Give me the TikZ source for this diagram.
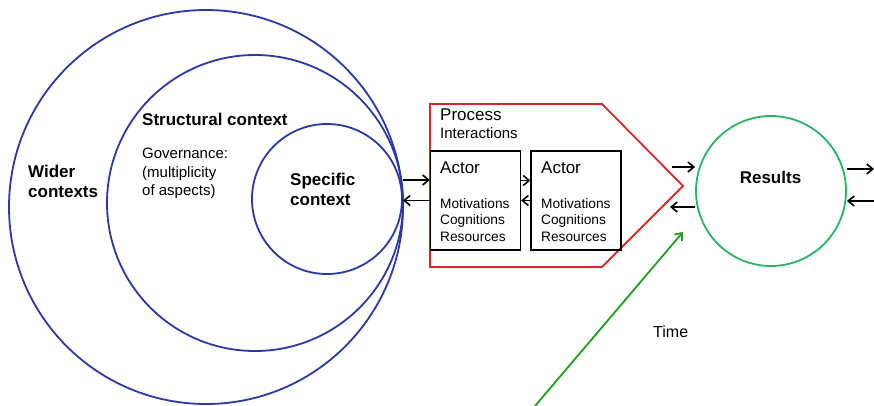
\documentclass[tikz,border=0pt]{standalone}
\usepackage{fontspec}
\setmainfont{Liberation Sans}
\usetikzlibrary{arrows.meta}
\definecolor{ctxblue}{RGB}{45,55,165}
\definecolor{procred}{RGB}{215,40,40}
\definecolor{resgreen}{RGB}{40,180,100}
\definecolor{timegreen}{RGB}{30,160,30}
\tikzset{
	ring/.style={circle, draw=ctxblue, line width=1.8pt, inner sep=0pt},
	actorbox/.style={draw, line width=1.2pt, inner sep=0pt, minimum width=90pt, minimum height=99pt},
	flow/.style={line width=1.6pt, -{Straight Barb[length=6pt,width=10pt]}},
	lbl/.style={anchor=base west, inner sep=0pt, align=left},
	bigfont/.style={font=\fontsize{17}{20}\selectfont},
	boldfont/.style={font=\fontsize{17}{20}\selectfont\bfseries},
	midfont/.style={font=\fontsize{15}{18}\selectfont},
	smallfont/.style={font=\fontsize{13.7}{16.8}\selectfont},
}
\begin{document}
\begin{tikzpicture}[x=1pt, y=-1pt]
			\useasboundingbox (0,0) rectangle (874,406);
			%--- Nested contexts ---
			\node[ring, minimum size=394pt] (wider) at (206,207) {};
			\node[ring, minimum size=296pt] (structural) at (255,203) {};
			\node[ring, minimum size=150pt] (specific) at (327,199) {};
			% multi-line labels sit on the baseline of their last line
			\node[lbl, boldfont] (widerlbl) at (28,197) {Wider\\contexts};
			\node[lbl, boldfont] (structlbl) at (142,126) {Structural context};
			\node[lbl, midfont] (govlbl) at (142,195) {Governance:\\(multiplicity\\of aspects)};
			\node[lbl, boldfont, font=\fontsize{17}{20.7}\selectfont\bfseries] (speclbl) at (290,205.7) {Specific\\context};
			%--- Process (pentagon) ---
			\draw[procred, line width=1.8pt] (430,104) -- (602,104) -- (683,186) -- (602,267) -- (430,267) -- cycle;
			\node[lbl, bigfont] (proclbl) at (440,121) {Process};
			\node[lbl, midfont] (interlbl) at (440,139) {Interactions};
			% Actors
			\node[actorbox] (actA) at (475.5,200.5) {};
			\node[actorbox] (actB) at (576,200.5) {};
			\foreach \a/\x in {actA/440, actB/541}{
			\node[lbl, bigfont] (\a name) at (\x,173) {Actor};
			\node[lbl, smallfont] (\a list) at (\x,241.7) {Motivations\\Cognitions\\Resources};
			}
			%--- Results ---
			\node[circle, draw=resgreen, line width=1.8pt, inner sep=0pt, minimum size=150pt] (results) at (771,191) {};
			\node[anchor=base, inner sep=0pt, boldfont] (reslbl) at (770.5,183) {Results};
			\node[lbl, font=\fontsize{16}{19}\selectfont] (timelbl) at (653,337) {Time};
			%--- Exchanges ---
			\coordinate (pOut) at (672,167);
			\coordinate (pIn) at (670,207);
			\coordinate (rOut) at (874,169);
			\coordinate (rIn) at (874,201);
			\coordinate (tStart) at (535,406);
			\coordinate (tEnd) at (683,232);
			\draw[flow] ([yshift=19pt]specific.east) -- ([yshift=19pt]specific.east -| actA.west);
			\draw[flow] (actA.west) -- (actA.west -| specific.east);
			\draw[flow] ([yshift=20pt]actA.east) -- ([yshift=20pt]actB.west);
			\draw[flow] (actB.west) -- (actA.east);
			\draw[flow] (pOut) -- (pOut -| results.west);
			\draw[flow] (pIn -| results.west) -- (pIn);
			\draw[flow] (rOut -| results.east) -- (rOut);
			\draw[flow] (rIn) -- (rIn -| results.east);
			% Time arrow
			\draw[timegreen, line width=1.8pt, -{Straight Barb[length=6pt,width=10pt]}] (tStart) -- (tEnd);
\end{tikzpicture}
\end{document}
